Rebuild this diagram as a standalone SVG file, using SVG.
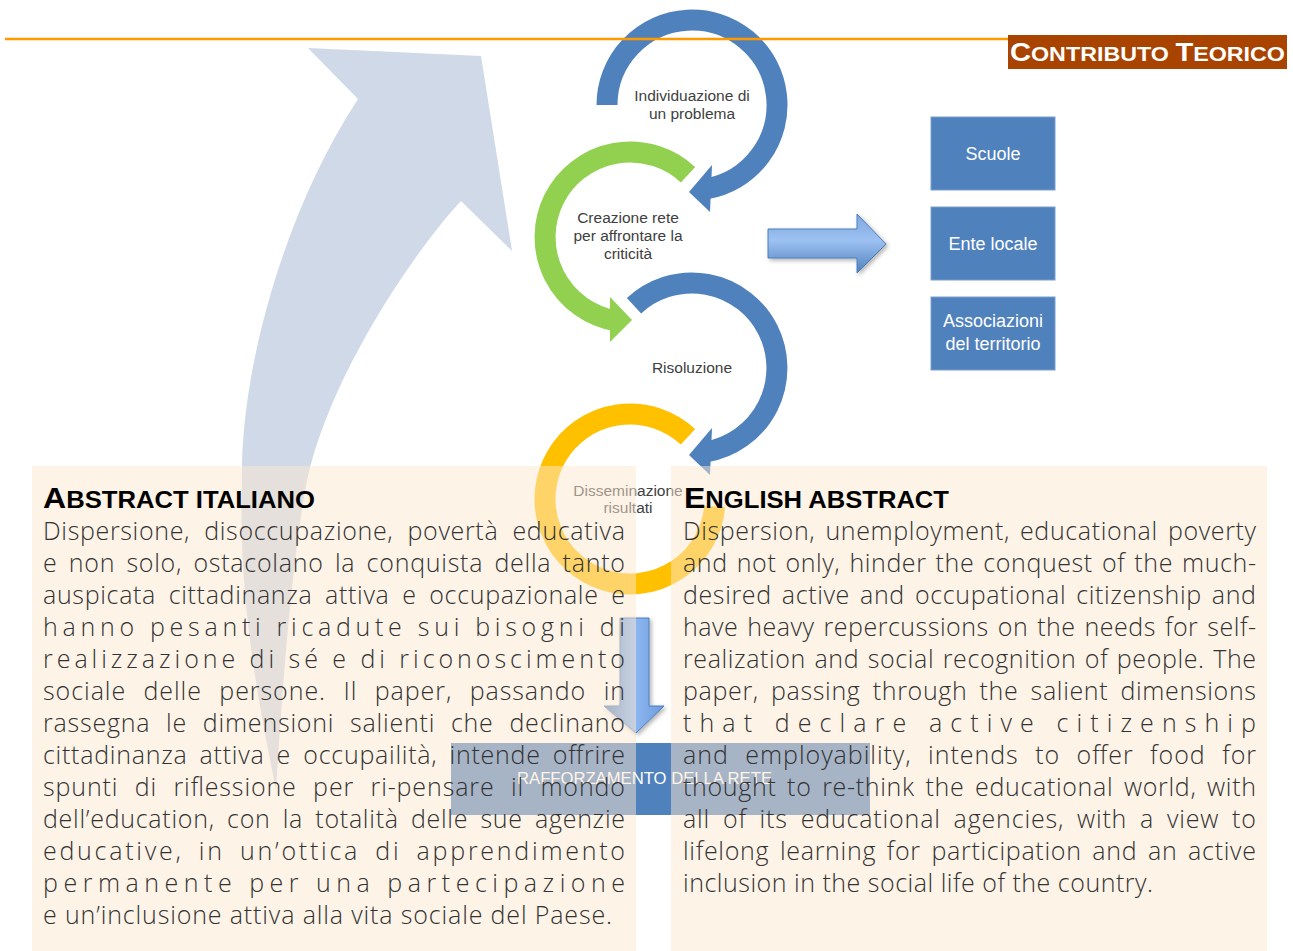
<svg xmlns="http://www.w3.org/2000/svg" width="1293" height="951" viewBox="0 0 1293 951">
<defs>
<linearGradient id="gRight" x1="0" y1="0" x2="0" y2="1">
<stop offset="0" stop-color="#7FA8DE"/>
<stop offset="0.45" stop-color="#9DC1F2"/>
<stop offset="1" stop-color="#4F81BD"/>
</linearGradient>
<linearGradient id="gDown" x1="0" y1="0" x2="1" y2="0">
<stop offset="0" stop-color="#4F81BD"/>
<stop offset="0.5" stop-color="#8FB8F2"/>
<stop offset="1" stop-color="#6C9BDC"/>
</linearGradient>
<filter id="sh" x="-20%" y="-20%" width="150%" height="150%">
<feDropShadow dx="2" dy="2" stdDeviation="2" flood-color="#000" flood-opacity="0.3"/>
</filter>
</defs>
<style>
.ring{fill:none;stroke-width:21}
.blue{stroke:#4F81BD}
.green{stroke:#92D050}
.yellow{stroke:#FFC000}
.hb{fill:#4F81BD}
.hg{fill:#92D050}
.lbl{font-family:"Liberation Sans",Arial,sans-serif;font-size:15.5px;fill:#404040;text-anchor:middle}
.box{fill:#4F81BD;stroke:#7A9FD0;stroke-width:1}
.boxt{font-family:"Liberation Sans",Arial,sans-serif;font-size:18px;fill:#fff;text-anchor:middle}
.panel{fill:rgb(253,232,207);opacity:0.5}
.body{font-family:"Open Sans","Liberation Sans",sans-serif;font-weight:300;font-size:25px;fill:#333}
.head{font-family:"Liberation Sans",Arial,sans-serif;font-weight:bold;fill:#000}
</style>
<rect width="1293" height="951" fill="#fff"/>

<g id="connectors">
<path id="big-arrow" d="M308,48 L481,56 L512,251 L461,201 C415,250 330,375 307,480 C292,560 283,680 276,790 C258,700 238,600 242,480 C240,370 285,210 358,99 Z" fill="#CFD9E8"/>
<g id="ring-1">
<path class="ring blue" d="M607,105 A85,85 0 1 1 706.8,188.7"/>
<polygon class="hb" points="712,165 689,192 710,212"/>
</g>
<g id="ring-2">
<path class="ring green" d="M688,174.8 A85,85 0 1 0 615.2,320.7"/>
<polygon class="hg" points="610,297 632,320 610,342"/>
</g>
<g id="ring-3">
<path class="ring blue" d="M634,305.8 A85,85 0 1 1 706.8,451.7"/>
<polygon class="hb" points="712,428 689,455 710,475"/>
</g>
<g id="ring-4">
<path class="ring yellow" d="M688,436.8 A85,85 0 1 0 714.7,506.4"/>
</g>
<path id="arrow-right" d="M768,229 L857,229 L857,214 L886,244 L857,273 L857,258 L768,258 Z" fill="url(#gRight)" stroke="#4A7EBB" stroke-width="1" filter="url(#sh)"/>
<path id="arrow-down" d="M620,618 L649,618 L649,706 L664,706 L636,733 L604,706 L620,706 Z" fill="url(#gDown)" stroke="#4A7EBB" stroke-width="1" filter="url(#sh)"/>
</g>

<g id="node-individuazione">
<text class="lbl" x="692" y="101">Individuazione di</text>
<text class="lbl" x="692" y="119">un problema</text>
</g>
<g id="node-creazione">
<text class="lbl" x="628" y="223">Creazione rete</text>
<text class="lbl" x="628" y="241">per affrontare la</text>
<text class="lbl" x="628" y="259">criticità</text>
</g>
<g id="node-risoluzione">
<text class="lbl" x="692" y="373">Risoluzione</text>
</g>
<g id="node-disseminazione">
<text class="lbl" x="628" y="496">Disseminazione</text>
<text class="lbl" x="628" y="513">risultati</text>
</g>

<g id="node-scuole">
<rect class="box" x="931" y="117" width="124" height="73"/>
<text class="boxt" x="993" y="160">Scuole</text>
</g>
<g id="node-ente-locale">
<rect class="box" x="931" y="207" width="124" height="73"/>
<text class="boxt" x="993" y="250">Ente locale</text>
</g>
<g id="node-associazioni">
<rect class="box" x="931" y="297" width="124" height="73"/>
<text class="boxt" x="993" y="327">Associazioni</text>
<text class="boxt" x="993" y="350">del territorio</text>
</g>

<g id="node-rafforzamento">
<rect x="451" y="743" width="419" height="72" fill="#4F81BD"/>
<text x="644.5" y="784" font-family="Liberation Sans, Arial, sans-serif" font-size="17" fill="#fff" text-anchor="middle" textLength="255" lengthAdjust="spacingAndGlyphs">RAFFORZAMENTO DELLA RETE</text>
</g>

<g id="panels">
<rect class="panel" x="32" y="466" width="604" height="485"/>
<rect class="panel" x="671" y="466" width="596" height="485"/>
</g>

<g id="abstract-italiano">
<text class="head" x="43" y="508" textLength="272" lengthAdjust="spacingAndGlyphs"><tspan font-size="30">A</tspan><tspan font-size="24">BSTRACT ITALIANO</tspan></text>
<text class="body" x="43" y="540" word-spacing="7" textLength="582" lengthAdjust="spacing">Dispersione, disoccupazione, povertà educativa</text>
<text class="body" x="43" y="572" word-spacing="4" textLength="582" lengthAdjust="spacing">e non solo, ostacolano la conquista della tanto</text>
<text class="body" x="43" y="604" word-spacing="5.5" textLength="582" lengthAdjust="spacing">auspicata cittadinanza attiva e occupazionale e</text>
<text class="body" x="43" y="636" textLength="582" lengthAdjust="spacing">hanno pesanti ricadute sui bisogni di</text>
<text class="body" x="43" y="668" textLength="582" lengthAdjust="spacing">realizzazione di sé e di riconoscimento</text>
<text class="body" x="43" y="700" word-spacing="10" textLength="582" lengthAdjust="spacing">sociale delle persone. Il paper, passando in</text>
<text class="body" x="43" y="732" word-spacing="8.5" textLength="582" lengthAdjust="spacing">rassegna le dimensioni salienti che declinano</text>
<text class="body" x="43" y="764" word-spacing="5" textLength="582" lengthAdjust="spacing">cittadinanza attiva e occupailità, intende offrire</text>
<text class="body" x="43" y="796" word-spacing="9" textLength="582" lengthAdjust="spacing">spunti di riflessione per ri-pensare il mondo</text>
<text class="body" x="43" y="828" word-spacing="5" textLength="582" lengthAdjust="spacing">dell’education, con la totalità delle sue agenzie</text>
<text class="body" x="43" y="860" word-spacing="6" textLength="582" lengthAdjust="spacing">educative, in un’ottica di apprendimento</text>
<text class="body" x="43" y="892" textLength="582" lengthAdjust="spacing">permanente per una partecipazione</text>
<text class="body" x="43" y="924" textLength="569" lengthAdjust="spacing">e un’inclusione attiva alla vita sociale del Paese.</text>
</g>

<g id="english-abstract">
<text class="head" x="684" y="508" textLength="265" lengthAdjust="spacingAndGlyphs"><tspan font-size="30">E</tspan><tspan font-size="24">NGLISH ABSTRACT</tspan></text>
<text class="body" x="683" y="540" word-spacing="3" textLength="573" lengthAdjust="spacing">Dispersion, unemployment, educational poverty</text>
<text class="body" x="683" y="572" word-spacing="2" textLength="573" lengthAdjust="spacing">and not only, hinder the conquest of the much-</text>
<text class="body" x="683" y="604" word-spacing="3" textLength="573" lengthAdjust="spacing">desired active and occupational citizenship and</text>
<text class="body" x="683" y="636" word-spacing="2" textLength="573" lengthAdjust="spacing">have heavy repercussions on the needs for self-</text>
<text class="body" x="683" y="668" word-spacing="1.5" textLength="573" lengthAdjust="spacing">realization and social recognition of people. The</text>
<text class="body" x="683" y="700" word-spacing="5" textLength="573" lengthAdjust="spacing">paper, passing through the salient dimensions</text>
<text class="body" x="683" y="732" textLength="573" lengthAdjust="spacing">that declare active citizenship</text>
<text class="body" x="683" y="764" word-spacing="9" textLength="573" lengthAdjust="spacing">and employability, intends to offer food for</text>
<text class="body" x="683" y="796" word-spacing="3.5" textLength="573" lengthAdjust="spacing">thought to re-think the educational world, with</text>
<text class="body" x="683" y="828" word-spacing="5.5" textLength="573" lengthAdjust="spacing">all of its educational agencies, with a view to</text>
<text class="body" x="683" y="860" word-spacing="3.5" textLength="573" lengthAdjust="spacing">lifelong learning for participation and an active</text>
<text class="body" x="683" y="892" textLength="470" lengthAdjust="spacing">inclusion in the social life of the country.</text>
</g>

<g id="header">
<line x1="5" y1="39" x2="1008" y2="39" stroke="#FF9900" stroke-width="2.5"/>
<rect x="1008" y="35" width="279" height="34" fill="#A84300"/>
<text x="1010" y="61" font-family="Liberation Sans, Arial, sans-serif" font-weight="bold" fill="#fff" textLength="275" lengthAdjust="spacingAndGlyphs"><tspan font-size="25">C</tspan><tspan font-size="20">ONTRIBUTO </tspan><tspan font-size="25">T</tspan><tspan font-size="20">EORICO</tspan></text>
</g>
</svg>
